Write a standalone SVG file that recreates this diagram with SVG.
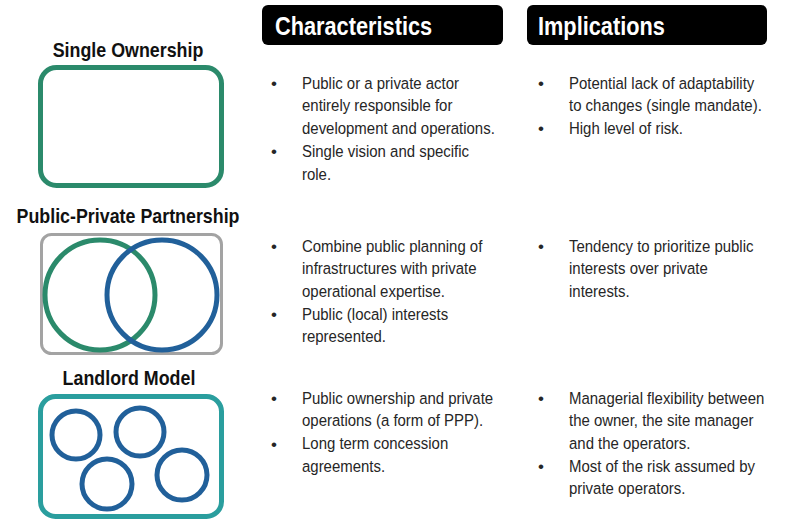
<svg xmlns="http://www.w3.org/2000/svg" width="803" height="526" viewBox="0 0 803 526">
<style>
.title{font-family:"Liberation Sans",Arial,sans-serif;font-weight:bold;font-size:21px;fill:#111;text-anchor:middle}
.hdr{font-family:"Liberation Sans",Arial,sans-serif;font-weight:bold;font-size:25px;fill:#fff}
.body{font-family:"Liberation Sans",Arial,sans-serif;font-size:17px;fill:#262626}
.bul{font-family:"Liberation Sans",Arial,sans-serif;font-size:17px;fill:#262626}
.hbox{fill:#000}
.frame{fill:none;stroke-width:5}
.ring{fill:none;stroke-width:5}
</style>
<rect width="803" height="526" fill="#fff"/>

<g id="header-characteristics">
<rect class="hbox" x="262" y="5" width="241" height="40" rx="6"/>
<g transform="translate(275,35) scale(0.87,1)"><text class="hdr" x="0" y="0">Characteristics</text></g>
</g>
<g id="header-implications">
<rect class="hbox" x="527" y="5" width="240" height="40" rx="6"/>
<g transform="translate(538,35) scale(0.87,1)"><text class="hdr" x="0" y="0">Implications</text></g>
</g>

<g id="single-ownership">
<g transform="translate(128,57) scale(0.85,1)"><text class="title" x="0" y="0">Single Ownership</text></g>
<rect class="frame" x="40.5" y="67.5" width="181" height="118" rx="16" stroke="#2b8a6b"/>
</g>

<g id="ppp">
<g transform="translate(128,223) scale(0.85,1)"><text class="title" x="0" y="0">Public-Private Partnership</text></g>
<rect x="41.5" y="234.5" width="180" height="119" rx="10" fill="none" stroke="#a3a3a3" stroke-width="3"/>
<circle class="ring" cx="100" cy="295" r="55" stroke="#2b8a6b"/>
<circle class="ring" cx="162" cy="295" r="55" stroke="#21609a"/>
</g>

<g id="landlord">
<g transform="translate(129,385) scale(0.85,1)"><text class="title" x="0" y="0">Landlord Model</text></g>
<rect class="frame" x="40.5" y="396.5" width="181" height="120" rx="15" stroke="#2a9e9e"/>
<circle class="ring" cx="76" cy="435" r="24" stroke="#21609a"/>
<circle class="ring" cx="140" cy="432" r="24" stroke="#21609a"/>
<circle class="ring" cx="107" cy="484" r="25" stroke="#21609a"/>
<circle class="ring" cx="182" cy="475" r="25" stroke="#21609a"/>
</g>

<g id="char-single">
<text class="bul" x="271" y="89">•</text>
<text class="bul" x="271" y="157">•</text>
<g transform="translate(302,0) scale(0.88,1)">
<text class="body" x="0" y="89">Public or a private actor</text>
<text class="body" x="0" y="111.5">entirely responsible for</text>
<text class="body" x="0" y="134">development and operations.</text>
<text class="body" x="0" y="157">Single vision and specific</text>
<text class="body" x="0" y="180">role.</text>
</g>
</g>

<g id="impl-single">
<text class="bul" x="538" y="89">•</text>
<text class="bul" x="538" y="134">•</text>
<g transform="translate(569,0) scale(0.88,1)">
<text class="body" x="0" y="89">Potential lack of adaptability</text>
<text class="body" x="0" y="111.5">to changes (single mandate).</text>
<text class="body" x="0" y="134">High level of risk.</text>
</g>
</g>

<g id="char-ppp">
<text class="bul" x="271" y="252">•</text>
<text class="bul" x="271" y="320">•</text>
<g transform="translate(302,0) scale(0.88,1)">
<text class="body" x="0" y="252">Combine public planning of</text>
<text class="body" x="0" y="274.5">infrastructures with private</text>
<text class="body" x="0" y="297">operational expertise.</text>
<text class="body" x="0" y="320">Public (local) interests</text>
<text class="body" x="0" y="342.5">represented.</text>
</g>
</g>

<g id="impl-ppp">
<text class="bul" x="538" y="252">•</text>
<g transform="translate(569,0) scale(0.88,1)">
<text class="body" x="0" y="252">Tendency to prioritize public</text>
<text class="body" x="0" y="274.5">interests over private</text>
<text class="body" x="0" y="297">interests.</text>
</g>
</g>

<g id="char-landlord">
<text class="bul" x="271" y="404">•</text>
<text class="bul" x="271" y="449.5">•</text>
<g transform="translate(302,0) scale(0.88,1)">
<text class="body" x="0" y="404">Public ownership and private</text>
<text class="body" x="0" y="426.5">operations (a form of PPP).</text>
<text class="body" x="0" y="449.5">Long term concession</text>
<text class="body" x="0" y="472">agreements.</text>
</g>
</g>

<g id="impl-landlord">
<text class="bul" x="538" y="404">•</text>
<text class="bul" x="538" y="472">•</text>
<g transform="translate(569,0) scale(0.88,1)">
<text class="body" x="0" y="404">Managerial flexibility between</text>
<text class="body" x="0" y="426.5">the owner, the site manager</text>
<text class="body" x="0" y="449.5">and the operators.</text>
<text class="body" x="0" y="472">Most of the risk assumed by</text>
<text class="body" x="0" y="494.5">private operators.</text>
</g>
</g>

<g id="connectors"></g>
</svg>
